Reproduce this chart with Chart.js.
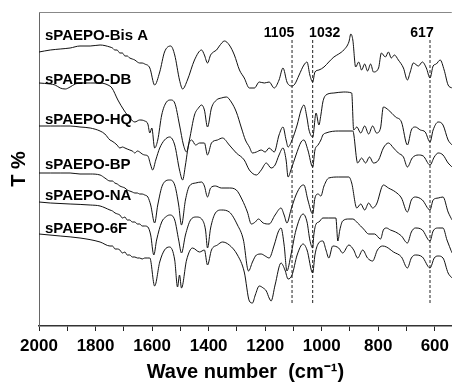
<!DOCTYPE html>
<html>
<head>
<meta charset="utf-8">
<script src="https://cdn.jsdelivr.net/npm/chart.js@4.4.0/dist/chart.umd.min.js"></script>
<style>
  html, body { margin: 0; padding: 0; background: #fff; }
  #wrap { width: 454px; height: 382px; }
</style>
</head>
<body>
<div id="wrap"><canvas id="ftirChart"></canvas></div>
<script>
// FTIR spectra, offset transmittance (arbitrary units), wavenumber in cm-1
const wnBisA = [2000,1960,1925,1890,1855,1819,1784,1749,1740,1732,1724,1714,1705,1696,1688,1679,1670,1661,1652,1644,1635,1626,1608,1591,1573,1556,1534,1520,1503,1492,1475,1450,1425,1415,1404,1393,1383,1372,1362,1344,1327,1309,1291,1274,1256,1238,1221,1203,1186,1168,1151,1137,1123,1116,1105,1095,1080,1063,1052,1042,1032,1024,1010,992,975,957,940,922,904,897,890,880,869,859,848,838,827,817,799,789,775,764,754,743,729,711,697,687,676,658,644,630,617,606,595,581,567,553,539];
const tBisA = [274,276,277,278,280,280,281,279,278,276,276,273,273,270,270,268,267,266,264,263,263,262,258,241,254,274,280,271,246,237,246,266,276,271,263,271,274,276,280,285,281,271,256,248,238,238,244,243,244,238,246,258,244,241,240,242,251,261,264,251,244,254,256,259,264,269,272,276,284,292,286,259,264,256,262,255,262,254,258,273,269,274,268,271,266,258,246,254,263,260,264,258,248,260,262,266,256,241,238];

const wnDB = [2000,1960,1943,1925,1907,1890,1872,1855,1819,1784,1756,1742,1721,1700,1679,1661,1644,1626,1615,1608,1601,1591,1580,1566,1549,1534,1520,1503,1489,1478,1468,1450,1436,1425,1415,1404,1390,1372,1355,1337,1320,1302,1284,1270,1256,1245,1231,1214,1200,1186,1168,1151,1137,1126,1119,1105,1087,1073,1063,1052,1045,1032,1020,1010,1003,996,985,957,922,894,887,876,862,848,834,820,806,792,782,764,739,718,697,683,669,651,634,617,606,588,571,553,539];
const tDB = [243,242,241,238,237,239,242,243,243,243,241,238,226,216,208,204,206,205,202,193,198,178,186,211,224,226,223,201,181,174,186,211,218,221,216,199,218,226,228,229,224,214,198,186,179,173,174,176,174,178,174,191,199,186,179,186,201,216,221,208,196,189,213,201,211,224,231,233,234,233,196,199,193,200,192,200,193,198,219,216,209,204,181,196,199,196,194,184,196,204,201,186,181];

const wnHQ = [2000,1960,1925,1890,1855,1819,1784,1767,1749,1742,1732,1724,1714,1705,1696,1688,1679,1670,1661,1652,1644,1635,1626,1615,1605,1598,1587,1573,1556,1538,1520,1503,1492,1482,1471,1460,1446,1432,1415,1404,1390,1369,1351,1327,1302,1274,1256,1231,1214,1196,1179,1165,1151,1137,1126,1119,1109,1091,1073,1063,1049,1032,1024,1013,1003,996,985,940,890,873,859,845,831,817,799,782,764,746,729,711,697,680,658,641,617,602,588,571,553,539];
const tHQ = [200,200,200,200,199,198,195,192,186,185,183,181,178,179,178,177,176,175,173,175,174,172,171,170,161,156,166,178,186,189,181,156,146,161,181,186,181,183,183,171,183,186,188,181,173,166,156,151,156,163,158,161,171,178,166,149,156,171,184,186,176,159,176,181,186,191,193,195,195,163,168,163,169,163,166,178,183,178,173,169,159,168,171,170,161,169,173,171,163,159];

const wnBP = [2000,1960,1925,1890,1855,1819,1784,1767,1749,1740,1732,1723,1714,1705,1696,1688,1679,1670,1661,1652,1644,1635,1626,1615,1605,1591,1580,1563,1538,1520,1506,1496,1482,1468,1446,1425,1415,1404,1393,1376,1355,1327,1302,1281,1263,1249,1235,1224,1207,1186,1165,1144,1133,1123,1109,1091,1073,1063,1049,1032,1024,1013,1003,992,975,940,904,894,876,862,848,834,820,806,782,764,739,718,697,683,669,644,617,606,588,571,553,539];
const tBP = [153,153,153,153,152,152,151,148,145,145,143,142,140,139,138,136,135,134,133,133,132,132,131,129,121,103,121,141,146,141,121,101,126,140,143,144,140,129,138,140,138,138,136,126,114,102,104,107,103,102,111,118,111,103,116,131,140,141,126,112,128,132,130,140,148,149,149,143,118,122,116,123,118,122,141,138,134,128,114,126,129,126,116,126,128,129,114,106];

const wnNA = [2000,1960,1890,1819,1784,1749,1740,1731,1722,1714,1705,1696,1688,1679,1670,1661,1652,1644,1635,1626,1615,1605,1594,1584,1566,1552,1538,1520,1506,1496,1482,1464,1443,1422,1411,1404,1393,1376,1355,1327,1298,1277,1259,1245,1231,1214,1200,1186,1168,1154,1144,1133,1123,1109,1091,1066,1052,1042,1032,1028,1020,1010,996,975,950,943,936,926,904,890,873,852,834,813,792,782,771,757,739,718,697,683,669,644,617,606,588,571,557,539];
const tNA = [124,123,122,121,120,116,115,113,112,111,108,109,106,106,104,104,102,102,100,100,99,91,71,86,104,109,111,106,86,73,91,106,109,106,96,78,98,113,116,114,101,86,55,64,71,72,70,68,81,94,98,81,55,71,96,112,104,86,78,91,102,104,108,108,108,85,96,105,107,107,103,97,92,92,87,96,98,96,94,90,83,94,98,96,85,95,98,98,86,73];

const wn6F = [2000,1925,1855,1784,1749,1740,1731,1722,1714,1705,1696,1688,1679,1670,1661,1652,1644,1635,1626,1615,1608,1591,1573,1556,1538,1520,1510,1503,1496,1478,1457,1432,1415,1404,1390,1369,1351,1327,1298,1274,1256,1245,1235,1221,1207,1196,1186,1179,1165,1144,1130,1119,1105,1087,1066,1052,1032,1024,1013,996,985,975,961,940,926,904,887,873,855,838,820,803,785,771,746,718,697,683,669,644,617,602,588,571,553,539];
const t6F = [92,90,88,84,80,80,77,77,76,73,74,71,71,69,69,68,68,67,68,68,68,40,64,76,79,66,39,51,38,66,78,74,76,61,76,81,84,81,71,54,25,23,31,40,38,35,28,25,41,63,56,47,51,71,82,76,53,71,82,85,76,68,80,78,73,81,76,68,76,68,65,76,80,79,74,69,58,68,71,69,58,68,70,68,53,48];

const sampleNames = ["sPAEPO-Bis A", "sPAEPO-DB", "sPAEPO-HQ", "sPAEPO-BP", "sPAEPO-NA", "sPAEPO-6F"];
const peakMarks = [1105, 1032, 617];
const markTop = 286;
const markBottom = 21;
const xTicks = [2000, 1900, 1800, 1700, 1600, 1500, 1400, 1300, 1200, 1100, 1000, 900, 800, 700, 600];

const FONT = '"Liberation Sans", Arial, Helvetica, sans-serif';

function toPoints(wn, t) {
  return wn.map((w, i) => ({ x: w, y: t[i] }));
}

const traces = [
  [wnBisA, tBisA], [wnDB, tDB], [wnHQ, tHQ], [wnBP, tBP], [wnNA, tNA], [wn6F, t6F]
].map(([wn, t], i) => ({
  label: sampleNames[i],
  data: toPoints(wn, t),
  borderColor: '#111',
  borderWidth: 1,
  pointRadius: 0,
  cubicInterpolationMode: 'monotone',
  fill: false
}));

const markers = peakMarks.map(p => ({
  label: String(p),
  data: [{ x: p, y: markTop }, { x: p, y: markBottom }],
  borderColor: '#222',
  borderWidth: 1,
  borderDash: [3, 2],
  pointRadius: 0,
  fill: false
}));

// text annotations + top frame line
const annotate = {
  id: 'annotate',
  afterDatasetsDraw(chart) {
    const { ctx, chartArea, scales: { x } } = chart;
    ctx.save();
    ctx.strokeStyle = '#888';
    ctx.lineWidth = 1;
    ctx.beginPath();
    ctx.moveTo(chartArea.left, chartArea.top + 0.5);
    ctx.lineTo(chartArea.right, chartArea.top + 0.5);
    ctx.stroke();

    ctx.fillStyle = '#000';
    ctx.textBaseline = 'middle';
    ctx.textAlign = 'left';
    ctx.font = 'bold 15px ' + FONT;
    const nameY = [36, 80, 120, 165, 196, 229];
    sampleNames.forEach((n, i) => ctx.fillText(n, chartArea.left + 6, nameY[i]));

    ctx.textAlign = 'center';
    ctx.font = 'bold 14px ' + FONT;
    const shift = [-13, 12, -8];
    peakMarks.forEach((p, i) => ctx.fillText(String(p), x.getPixelForValue(p) + shift[i], 33));
    ctx.restore();
  }
};

new Chart(document.getElementById('ftirChart'), {
  type: 'line',
  data: { datasets: [...traces, ...markers] },
  options: {
    responsive: true,
    maintainAspectRatio: false,
    animation: false,
    devicePixelRatio: 1,
    layout: { padding: { top: 12, right: 0, left: 0, bottom: 0 } },
    plugins: { legend: { display: false }, tooltip: { enabled: false } },
    scales: {
      x: {
        type: 'linear',
        reverse: true,
        min: 540,
        max: 2000,
        afterBuildTicks: s => { s.ticks = xTicks.map(v => ({ value: v })); },
        afterFit: s => { s.height = 56; },
        ticks: {
          autoSkip: false,
          maxRotation: 0,
          padding: 5,
          color: '#000',
          font: { family: FONT, size: 17, weight: 'bold' },
          callback: v => (v % 200 === 0 ? v : '')
        },
        grid: { display: true, drawOnChartArea: false, tickLength: 5, tickColor: '#222', tickWidth: 1 },
        border: { display: true, color: '#333', width: 1.5 },
        title: {
          display: true,
          text: 'Wave number  (cm\u207B\u00B9)',
          color: '#000',
          font: { family: FONT, size: 20, weight: 'bold', lineHeight: 1 },
          padding: { top: 0, bottom: 0 }
        }
      },
      y: {
        min: 0,
        max: 314,
        afterFit: s => { s.width = 39; },
        ticks: { display: false },
        grid: { display: false },
        border: { display: true, color: '#666', width: 1 },
        title: {
          display: true,
          text: 'T %',
          color: '#000',
          font: { family: FONT, size: 20, weight: 'bold', lineHeight: 1 },
          padding: { top: 9, bottom: 0 }
        }
      }
    }
  },
  plugins: [annotate]
});
</script>
</body>
</html>
